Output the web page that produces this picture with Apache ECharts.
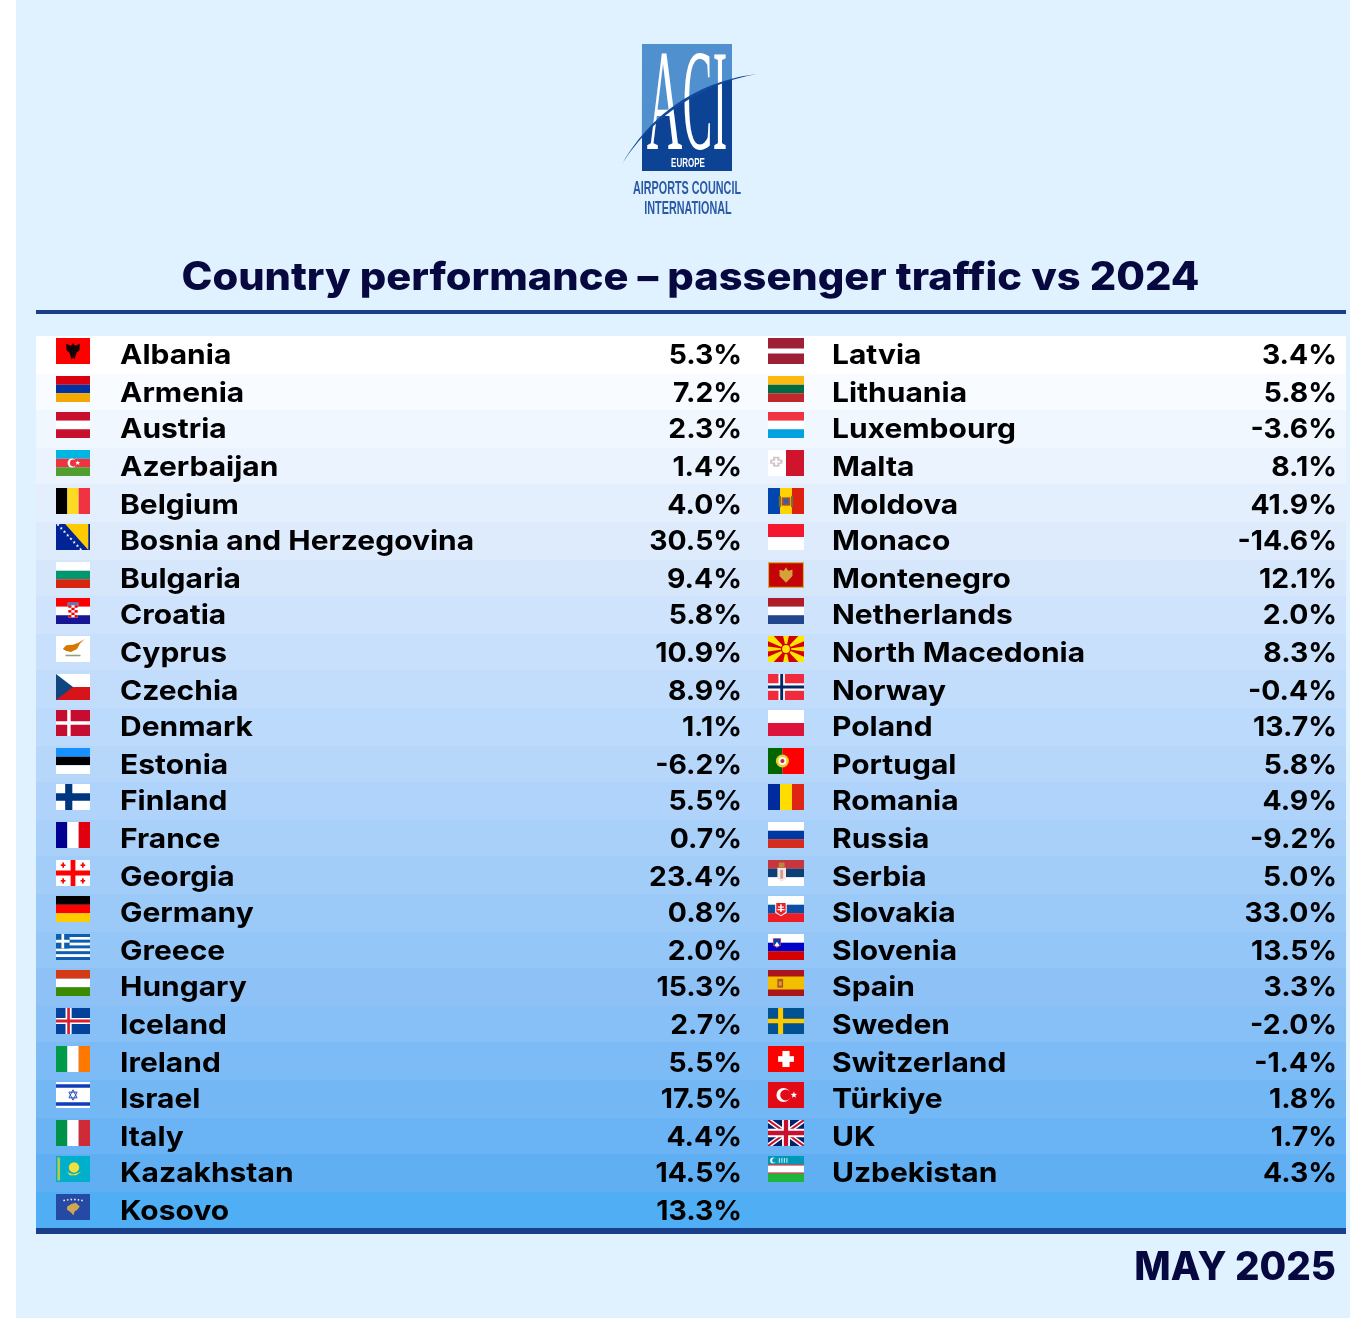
<!DOCTYPE html>
<html>
<head>
<meta charset="utf-8">
<title>Country performance</title>
<style>
  html, body { margin: 0; padding: 0; background: #fff; }
  #chart { position: absolute; left: 0; top: 0; width: 1350px; height: 1318px; }
</style>
<script src="https://cdn.jsdelivr.net/npm/echarts@6/dist/echarts.min.js"></script>
</head>
<body>
<div id="chart"></div>
<script>
const leftNames = ['Albania', 'Armenia', 'Austria', 'Azerbaijan', 'Belgium', 'Bosnia and Herzegovina', 'Bulgaria', 'Croatia',
  'Cyprus', 'Czechia', 'Denmark', 'Estonia', 'Finland', 'France', 'Georgia', 'Germany', 'Greece', 'Hungary', 'Iceland',
  'Ireland', 'Israel', 'Italy', 'Kazakhstan', 'Kosovo']
const leftValues = [5.3, 7.2, 2.3, 1.4, 4.0, 30.5, 9.4, 5.8, 10.9, 8.9, 1.1, -6.2, 5.5, 0.7, 23.4, 0.8, 2.0, 15.3, 2.7, 5.5, 17.5, 4.4, 14.5, 13.3]
const rightNames = ['Latvia', 'Lithuania', 'Luxembourg', 'Malta', 'Moldova', 'Monaco', 'Montenegro', 'Netherlands',
  'North Macedonia', 'Norway', 'Poland', 'Portugal', 'Romania', 'Russia', 'Serbia', 'Slovakia', 'Slovenia', 'Spain', 'Sweden',
  'Switzerland', 'Türkiye', 'UK', 'Uzbekistan', '']
const rightValues = [3.4, 5.8, -3.6, 8.1, 41.9, -14.6, 12.1, 2.0, 8.3, -0.4, 13.7, 5.8, 4.9, -9.2, 5.0, 33.0, 13.5, 3.3, -2.0, -1.4, 1.8, 1.7, 4.3, null]

const TITLE = 'Country performance – passenger traffic vs 2024'
const PERIOD = 'MAY 2025'

const TEXT_FONT = 'Inter'
const NAVY = '#1a3e88'
const INK = '#06083f'
// Inter runs narrower than the original lettering, so stretch it a little
const NAME_SCALE_X = 1.09
const VALUE_SCALE_X = 1.03

// row tint runs white -> pale blue -> saturated blue, stepped per row
const bandStops = [[0, '#ffffff'], [7, '#cfe3fc'], [13, '#a9d0f9'], [18, '#87bff7'], [22, '#60aff3'], [23, '#50aef5']]

function bandColor(i) {
  for (let s = 1; s < bandStops.length; s++) {
    if (i <= bandStops[s][0]) {
      const a = bandStops[s - 1], b = bandStops[s]
      return echarts.color.lerp((i - a[0]) / (b[0] - a[0]), [a[1], b[1]])
    }
  }
  return bandStops[bandStops.length - 1][1]
}

// The source image was scaled so rows land on even pixels.
const snap = (v) => Math.round(v / 2) * 2

// Small drawing kit for the flags, coordinates are 0..1 of the flag box.
function painter(w, h) {
  const out = []
  const pts = (list) => list.map((p) => [p[0] * w, p[1] * h])
  return {
    out, w, h,
    rect(x0, y0, x1, y1, c) {
      out.push({ type: 'rect', shape: { x: x0 * w, y: y0 * h, width: (x1 - x0) * w, height: (y1 - y0) * h }, style: { fill: c } })
    },
    poly(list, c) {
      out.push({ type: 'polygon', shape: { points: pts(list) }, style: { fill: c } })
    },
    outline(list, c, lw) {
      out.push({ type: 'polygon', shape: { points: pts(list) }, style: { fill: 'none', stroke: c, lineWidth: lw } })
    },
    // radius is in flag heights so circles stay round
    circle(cx, cy, r, c) {
      out.push({ type: 'circle', shape: { cx: cx * w, cy: cy * h, r: r * h }, style: { fill: c } })
    },
    star(cx, cy, r, c) {
      const list = []
      for (let i = 0; i < 10; i++) {
        const a = -Math.PI / 2 + i * Math.PI / 5
        const rr = i % 2 ? r * 0.42 : r
        list.push([cx + rr * Math.cos(a) * h / w, cy + rr * Math.sin(a)])
      }
      this.poly(list, c)
    },
    hs(colors) {
      colors.forEach((c, i) => this.rect(0, i / colors.length, 1, (i + 1) / colors.length, c))
    },
    vs(colors) {
      colors.forEach((c, i) => this.rect(i / colors.length, 0, (i + 1) / colors.length, 1, c))
    },
    cross(x0, x1, y0, y1, c) {
      this.rect(x0, 0, x1, 1, c)
      this.rect(0, y0, 1, y1, c)
    },
  }
}

const flagPainters = {
  Albania(p) {
    p.rect(0, 0, 1, 1, '#ff0000')
    p.poly([[.5, .2], [.56, .3], [.7, .22], [.69, .47], [.61, .56], [.57, .7], [.54, .82], [.5, .76], [.46, .82], [.43, .7], [.39, .56], [.31, .47], [.3, .22], [.44, .3]], '#140404')
  },
  Armenia(p) { p.hs(['#d90012', '#0033a0', '#f2a800']) },
  Austria(p) { p.hs(['#c8102e', '#ffffff', '#c8102e']) },
  Azerbaijan(p) {
    p.hs(['#00b5e2', '#ef3340', '#509e2f'])
    p.circle(.47, .5, .17, '#ffffff')
    p.circle(.51, .5, .13, '#ef3340')
    p.star(.64, .5, .1, '#ffffff')
  },
  Belgium(p) { p.vs(['#000000', '#fdda24', '#ef3340']) },
  'Bosnia and Herzegovina'(p) {
    p.rect(0, 0, 1, 1, '#002395')
    p.poly([[.27, 0], [.95, 0], [.95, 1]], '#fecb00')
    for (let i = 0; i < 8; i++) p.star(.06 + i * .095, .03 + i * .135, .07, '#ffffff')
  },
  Bulgaria(p) { p.hs(['#ffffff', '#00966e', '#d62612']) },
  Croatia(p) {
    p.hs(['#ff0000', '#ffffff', '#171796'])
    p.rect(.33, .16, .67, .3, '#5a7fb8')
    p.rect(.36, .28, .64, .75, '#ffffff')
    for (let r = 0; r < 5; r++) {
      for (let c = 0; c < 3; c++) {
        if ((r + c) % 2 === 0) p.rect(.36 + c * .093, .28 + r * .094, .36 + (c + 1) * .093, .28 + (r + 1) * .094, '#f00000')
      }
    }
  },
  Cyprus(p) {
    p.rect(0, 0, 1, 1, '#ffffff')
    p.poly([[.2, .5], [.3, .36], [.5, .34], [.66, .26], [.84, .12], [.7, .3], [.62, .5], [.44, .62], [.3, .58]], '#d57800')
    p.rect(.28, .72, .72, .78, '#8aa37c')
  },
  Czechia(p) {
    p.hs(['#ffffff', '#d7141a'])
    p.poly([[0, 0], [.5, .5], [0, 1]], '#11457e')
  },
  Denmark(p) {
    p.rect(0, 0, 1, 1, '#c60c30')
    p.cross(.33, .43, .43, .57, '#ffffff')
  },
  Estonia(p) { p.hs(['#1791ff', '#000000', '#ffffff']) },
  Finland(p) {
    p.rect(0, 0, 1, 1, '#ffffff')
    p.cross(.27, .48, .36, .64, '#003580')
  },
  France(p) { p.vs(['#000091', '#ffffff', '#e1000f']) },
  Georgia(p) {
    p.rect(0, 0, 1, 1, '#ffffff')
    p.cross(.43, .57, .4, .6, '#ff0000')
    const spots = [[.21, .2], [.79, .2], [.21, .8], [.79, .8]]
    spots.forEach((s) => {
      p.rect(s[0] - .07, s[1] - .03, s[0] + .07, s[1] + .03, '#ff0000')
      p.rect(s[0] - .025, s[1] - .1, s[0] + .025, s[1] + .1, '#ff0000')
    })
  },
  Germany(p) { p.hs(['#000000', '#ff0000', '#ffcc00']) },
  Greece(p) {
    for (let i = 0; i < 9; i++) p.rect(0, i / 9, 1, (i + 1) / 9, i % 2 ? '#ffffff' : '#0d5eaf')
    p.rect(0, 0, .4, 5 / 9, '#0d5eaf')
    p.rect(.16, 0, .24, 5 / 9, '#ffffff')
    p.rect(0, 2 / 9, .4, 3 / 9, '#ffffff')
  },
  Hungary(p) { p.hs(['#d43a16', '#ffffff', '#3b8a00']) },
  Iceland(p) {
    p.rect(0, 0, 1, 1, '#02429c')
    p.cross(.28, .46, .38, .62, '#ffffff')
    p.cross(.33, .41, .44, .56, '#dc1e35')
  },
  Ireland(p) { p.vs(['#009a49', '#ffffff', '#ff7900']) },
  Israel(p) {
    p.rect(0, 0, 1, 1, '#ffffff')
    p.rect(0, .09, 1, .22, '#0f3db8')
    p.rect(0, .78, 1, .91, '#0f3db8')
    p.outline([[.5, .3], [.62, .61], [.38, .61]], '#2a50c0', 1)
    p.outline([[.5, .7], [.62, .39], [.38, .39]], '#2a50c0', 1)
  },
  Italy(p) { p.vs(['#009246', '#ffffff', '#ce2b37']) },
  Kazakhstan(p) {
    p.rect(0, 0, 1, 1, '#00afca')
    p.rect(.04, .06, .12, .94, '#b9c948')
    p.poly([[.32, .6], [.4, .74], [.6, .74], [.74, .6], [.62, .66], [.5, .7], [.4, .66]], '#ecdc3a')
    p.circle(.53, .44, .2, '#f3e13a')
  },
  Kosovo(p) {
    p.rect(0, 0, 1, 1, '#244aa5')
    p.poly([[.45, .38], [.58, .34], [.7, .48], [.62, .62], [.55, .66], [.51, .82], [.43, .7], [.32, .6], [.33, .48]], '#d0a650')
    for (let i = 0; i < 6; i++) p.circle(.24 + i * .105, .26 - .05 * Math.sin((i + .5) * Math.PI / 6), .035, '#e8e8e8')
  },
  Latvia(p) {
    p.rect(0, 0, 1, 1, '#9e2035')
    p.rect(0, .4, 1, .6, '#ffffff')
  },
  Lithuania(p) { p.hs(['#fdb913', '#006a44', '#c1272d']) },
  Luxembourg(p) { p.hs(['#ef3340', '#ffffff', '#00a3e0']) },
  Malta(p) {
    p.vs(['#ffffff', '#cf142b'])
    p.rect(.14, .26, .32, .64, '#d4c4c8')
    p.rect(.06, .37, .4, .53, '#d4c4c8')
    p.rect(.2, .32, .26, .58, '#ffffff')
    p.rect(.12, .42, .34, .48, '#ffffff')
  },
  Moldova(p) {
    p.vs(['#0046ae', '#ffd200', '#e0200f'])
    p.rect(.38, .36, .62, .68, '#a8502e')
    p.rect(.44, .42, .56, .6, '#2f5fb0')
    p.rect(.3, .3, .36, .74, '#7a6a3a')
    p.rect(.64, .3, .7, .74, '#7a6a3a')
  },
  Monaco(p) { p.hs(['#f31830', '#ffffff']) },
  Montenegro(p) {
    p.rect(0, 0, 1, 1, '#d4af3a')
    p.rect(.03, .05, .97, .95, '#c40308')
    p.poly([[.5, .2], [.56, .34], [.68, .3], [.68, .54], [.58, .68], [.5, .8], [.42, .68], [.32, .54], [.32, .3], [.44, .34]], '#d4a13a')
  },
  Netherlands(p) { p.hs(['#ae1c28', '#ffffff', '#21468b']) },
  'North Macedonia'(p) {
    p.rect(0, 0, 1, 1, '#d20000')
    const y = '#ffe600'
    p.poly([[0, 0], [.16, 0], [.5, .5], [0, .2]], y)
    p.poly([[1, 0], [.84, 0], [.5, .5], [1, .2]], y)
    p.poly([[0, 1], [.16, 1], [.5, .5], [0, .8]], y)
    p.poly([[1, 1], [.84, 1], [.5, .5], [1, .8]], y)
    p.poly([[.42, 0], [.58, 0], [.5, .5]], y)
    p.poly([[.42, 1], [.58, 1], [.5, .5]], y)
    p.poly([[0, .4], [0, .6], [.5, .5]], y)
    p.poly([[1, .4], [1, .6], [.5, .5]], y)
    p.circle(.5, .5, .2, '#d20000')
    p.circle(.5, .5, .15, y)
  },
  Norway(p) {
    p.rect(0, 0, 1, 1, '#ef2b3d')
    p.cross(.29, .47, .36, .64, '#ffffff')
    p.cross(.34, .42, .44, .56, '#002868')
  },
  Poland(p) { p.hs(['#ffffff', '#dc143c']) },
  Portugal(p) {
    p.rect(0, 0, .4, 1, '#006600')
    p.rect(.4, 0, 1, 1, '#ff0000')
    p.circle(.4, .5, .25, '#e8d22a')
    p.circle(.4, .5, .15, '#ffffff')
    p.circle(.4, .5, .08, '#d0202a')
  },
  Romania(p) { p.vs(['#002b9f', '#ffdd00', '#e02514']) },
  Russia(p) { p.hs(['#ffffff', '#0039a6', '#d52b1e']) },
  Serbia(p) {
    p.hs(['#c6363c', '#0c4076', '#ffffff'])
    p.poly([[.26, .3], [.5, .3], [.5, .72], [.38, .84], [.26, .72]], '#f3e8e4')
    p.rect(.3, .1, .46, .28, '#b88a3a')
    p.rect(.34, .38, .42, .72, '#d89a90')
  },
  Slovakia(p) {
    p.hs(['#ffffff', '#0b4ea2', '#ee1c25'])
    p.poly([[.2, .24], [.52, .24], [.52, .64], [.36, .78], [.2, .64]], '#ffffff')
    p.poly([[.23, .27], [.49, .27], [.49, .62], [.36, .74], [.23, .62]], '#ee1c25')
    p.rect(.34, .32, .38, .62, '#ffffff')
    p.rect(.28, .4, .44, .45, '#ffffff')
    p.rect(.26, .5, .46, .55, '#ffffff')
  },
  Slovenia(p) {
    p.hs(['#ffffff', '#0000c8', '#d50000'])
    p.poly([[.14, .16], [.36, .16], [.36, .44], [.25, .54], [.14, .44]], '#e04040')
    p.poly([[.16, .18], [.34, .18], [.34, .42], [.25, .5], [.16, .42]], '#0b3fb0')
    p.poly([[.18, .44], [.25, .3], [.32, .44], [.25, .49]], '#ffffff')
  },
  Spain(p) {
    p.rect(0, 0, 1, 1, '#aa151b')
    p.rect(0, .25, 1, .75, '#f1bf00')
    p.rect(.26, .34, .42, .68, '#b5541f')
    p.rect(.3, .44, .38, .6, '#d5a03a')
  },
  Sweden(p) {
    p.rect(0, 0, 1, 1, '#005293')
    p.cross(.28, .42, .41, .59, '#fecb00')
  },
  Switzerland(p) {
    p.rect(0, 0, 1, 1, '#ff0000')
    p.rect(.28, .39, .72, .61, '#ffffff')
    p.rect(.4, .19, .6, .81, '#ffffff')
  },
  'Türkiye'(p) {
    p.rect(0, 0, 1, 1, '#e30a17')
    p.circle(.43, .5, .27, '#ffffff')
    p.circle(.49, .5, .21, '#e30a17')
    p.star(.72, .5, .13, '#ffffff')
  },
  UK(p) {
    p.rect(0, 0, 1, 1, '#012169')
    const w = '#ffffff', r = '#c8102e'
    p.poly([[0, 0], [.12, 0], [1, .88], [1, 1], [.88, 1], [0, .12]], w)
    p.poly([[1, 0], [.88, 0], [0, .88], [0, 1], [.12, 1], [1, .12]], w)
    p.poly([[0, 0], [.05, 0], [1, .95], [1, 1], [.95, 1], [0, .05]], r)
    p.poly([[1, 0], [.95, 0], [0, .95], [0, 1], [.05, 1], [1, .05]], r)
    p.cross(.39, .61, .34, .66, w)
    p.cross(.44, .56, .41, .59, r)
  },
  Uzbekistan(p) {
    p.rect(0, 0, 1, 1, '#ffffff')
    p.rect(0, 0, 1, .34, '#0099b5')
    p.rect(0, .66, 1, 1, '#1eb53a')
    p.rect(0, .33, 1, .37, '#ce1126')
    p.rect(0, .63, 1, .67, '#ce1126')
    p.circle(.14, .17, .11, '#ffffff')
    p.circle(.18, .17, .09, '#0099b5')
    for (let i = 0; i < 4; i++) p.rect(.3 + i * .07, .08, .33 + i * .07, .26, '#cfeaf0')
  },
}

function flagGroup(name, x, y, w, h) {
  const p = painter(w, h)
  flagPainters[name](p)
  return { type: 'group', x, y, children: p.out }
}

function rowText(text, x, y, align, scaleX) {
  return {
    type: 'text',
    x,
    y,
    scaleX,
    style: {
      text,
      x: 0,
      y: 0,
      align,
      verticalAlign: 'middle',
      fill: '#000000',
      font: `700 27.5px ${TEXT_FONT}`,
    },
  }
}

function columnRender(names, values, col) {
  return (params, api) => {
    const i = api.value(1)
    const step = api.size([0, 1])[1]
    const raw = api.coord([0, i])[1] - step / 2
    const top = snap(raw)
    const bottom = snap(raw + step)
    const flagTop = snap(raw + 0.3) + 2
    const left = params.coordSys.x
    const children = [{
      type: 'rect',
      shape: { x: left, y: top, width: params.coordSys.width, height: bottom - top },
      style: { fill: bandColor(i) },
    }]
    if (names[i]) {
      children.push(flagGroup(names[i], col.flagX, flagTop, col.flagW, 26))
      children.push(rowText(names[i], col.nameX, flagTop + 18, 'left', NAME_SCALE_X))
      children.push(rowText(values[i].toFixed(1) + '%', col.valueX, flagTop + 18, 'right', VALUE_SCALE_X))
    }
    return { type: 'group', children }
  }
}

function rowsFor(names) {
  return names.map((n, i) => [0, i])
}

// ---- logo pieces ----
function swooshPoint(t) {
  const u = 1 - t
  const c = [[622, 164], [645, 125], [690, 84], [757, 74]]
  const k = [u * u * u, 3 * u * u * t, 3 * u * t * t, t * t * t]
  return [0, 1].map((d) => k[0] * c[0][d] + k[1] * c[1][d] + k[2] * c[2][d] + k[3] * c[3][d])
}

function swooshPolygon(t0, t1, maxThick) {
  const up = [], down = []
  for (let n = 0; n <= 40; n++) {
    const t = t0 + (t1 - t0) * n / 40
    const pt = swooshPoint(t)
    const th = maxThick * Math.sin(Math.PI * Math.min(1, Math.max(0, t)))
    up.push([pt[0], pt[1] - th / 2])
    down.unshift([pt[0], pt[1] + th / 2])
  }
  return up.concat(down)
}

function skyPolygon() {
  // area of the logo square above the swoosh
  const pts = [[642, 44], [732, 44]]
  for (let n = 40; n >= 0; n--) {
    pts.push(swooshPoint(0.235 + (0.87 - 0.235) * n / 40))
  }
  return pts
}

function logoLetter(ch, x, scaleX) {
  return {
    type: 'text',
    x,
    y: 111.5,
    scaleX,
    scaleY: 2.4,
    z: 3,
    style: { text: ch, x: 0, y: 0, align: 'center', verticalAlign: 'middle', fill: '#ffffff', font: '400 60px "Liberation Serif"' },
  }
}

function logoCaption(text, x, y, size, scaleX, color) {
  return {
    type: 'text',
    x,
    y,
    scaleX,
    z: 5,
    style: { text, x: 0, y: 0, align: 'center', verticalAlign: 'middle', fill: color, font: `700 ${size}px "Liberation Sans"` },
  }
}

const chart = echarts.init(document.getElementById('chart'), null, { renderer: 'canvas' })

chart.setOption({
  animation: false,
  backgroundColor: '#ffffff',
  tooltip: { show: false },
  graphic: [
    { type: 'rect', z: 0, shape: { x: 16, y: 0, width: 1334, height: 1318 }, style: { fill: '#e0f2ff' } },
    { type: 'rect', z: 1, shape: { x: 642, y: 44, width: 90, height: 127 }, style: { fill: '#0d4394' } },
    { type: 'polygon', z: 2, shape: { points: skyPolygon() }, style: { fill: '#5090cf' } },
    logoLetter('A', 664.5, 0.82),
    logoLetter('C', 697.5, 0.74),
    logoLetter('I', 720, 0.72),
    { type: 'polygon', z: 4, shape: { points: swooshPolygon(0, 1, 3.4) }, style: { fill: '#14489a' } },
    logoCaption('EUROPE', 688, 164, 12.5, 0.64, '#ffffff'),
    logoCaption('AIRPORTS COUNCIL', 687, 189, 18, 0.6, '#2a5aa5'),
    logoCaption('INTERNATIONAL', 688, 209, 18, 0.6, '#2a5aa5'),
    {
      type: 'text', z: 5, x: 690.5, y: 278.5, scaleX: 1.066,
      style: { text: TITLE, x: 0, y: 0, align: 'center', verticalAlign: 'middle', fill: INK, font: `800 39px ${TEXT_FONT}` },
    },
    { type: 'rect', z: 5, shape: { x: 36, y: 310, width: 1310, height: 4 }, style: { fill: NAVY } },
    { type: 'rect', z: 5, shape: { x: 36, y: 1228, width: 1310, height: 6 }, style: { fill: NAVY } },
    {
      type: 'text', z: 5, x: 1336, y: 1268, scaleX: 0.99,
      style: { text: PERIOD, x: 0, y: 0, align: 'right', verticalAlign: 'middle', fill: INK, font: `800 39px ${TEXT_FONT}` },
    },
  ],
  grid: [
    { left: 36, top: 336, width: 712, height: 892.8 },
    { left: 748, top: 336, width: 598, height: 892.8 },
  ],
  xAxis: [
    { gridIndex: 0, type: 'value', min: 0, max: 1, show: false },
    { gridIndex: 1, type: 'value', min: 0, max: 1, show: false },
  ],
  yAxis: [
    { gridIndex: 0, type: 'category', data: leftNames, inverse: true, show: false },
    { gridIndex: 1, type: 'category', data: rightNames, inverse: true, show: false },
  ],
  series: [
    {
      type: 'custom',
      xAxisIndex: 0,
      yAxisIndex: 0,
      clip: false,
      silent: true,
      data: rowsFor(leftNames),
      encode: { x: 0, y: 1 },
      renderItem: columnRender(leftNames, leftValues, { flagX: 56, flagW: 34, nameX: 120, valueX: 742 }),
    },
    {
      type: 'custom',
      xAxisIndex: 1,
      yAxisIndex: 1,
      clip: false,
      silent: true,
      data: rowsFor(rightNames),
      encode: { x: 0, y: 1 },
      renderItem: columnRender(rightNames, rightValues, { flagX: 768, flagW: 36, nameX: 832, valueX: 1337 }),
    },
  ],
})
</script>
</body>
</html>
